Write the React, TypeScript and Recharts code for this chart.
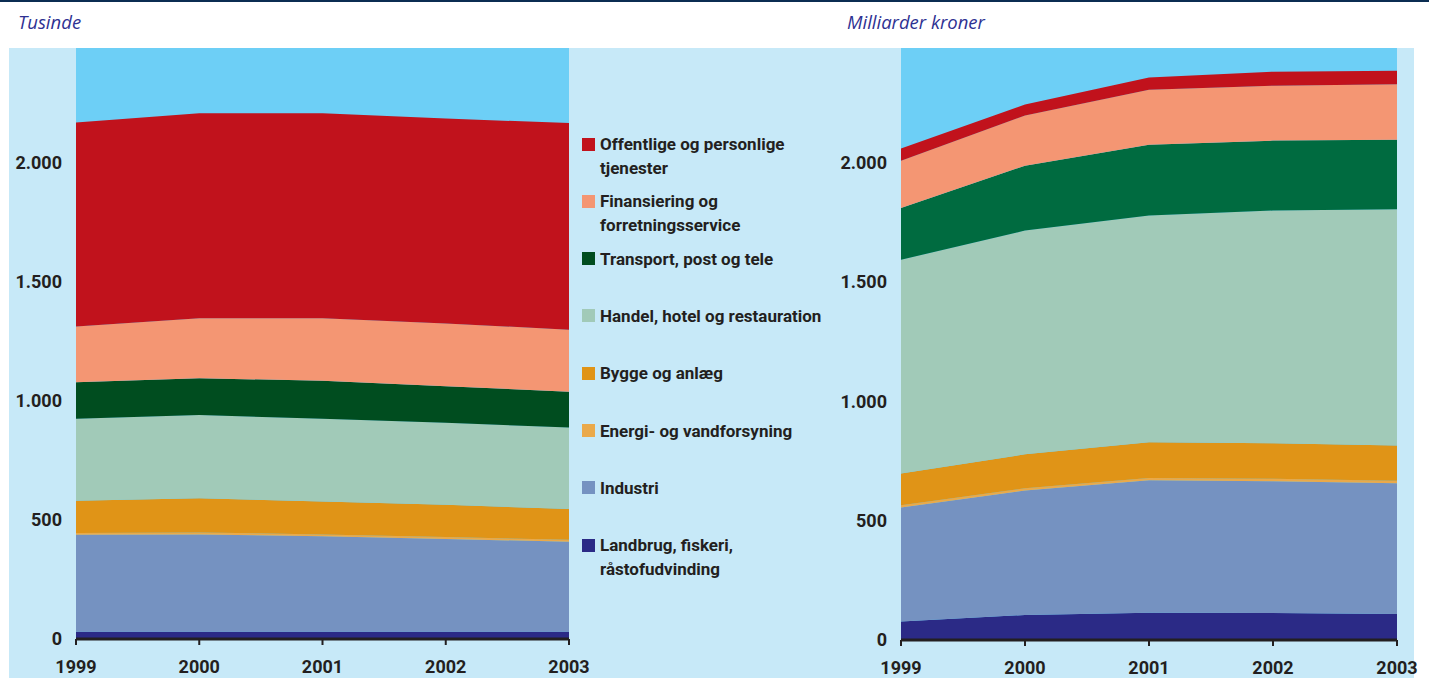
import React from 'react';
import { AreaChart, Area, XAxis, YAxis, CartesianGrid } from 'recharts';

// ---------- data ----------
const years = ['1999', '2000', '2001', '2002', '2003'];

const seriesKeys = ['landbrug', 'industri', 'energi', 'bygge', 'handel', 'transport', 'finans', 'offentlige'];

const legendLabels = [
  ['Offentlige og personlige', 'tjenester'],
  ['Finansiering og', 'forretningsservice'],
  ['Transport, post og tele'],
  ['Handel, hotel og restauration'],
  ['Bygge og anlæg'],
  ['Energi- og vandforsyning'],
  ['Industri'],
  ['Landbrug, fiskeri,', 'råstofudvinding'],
];

// Left: employment (thousands)
const empLandbrug = [30, 30, 30, 30, 30];
const empIndustri = [407, 409, 401, 390, 378];
const empEnergi = [8, 8, 8, 8, 8];
const empBygge = [135, 144, 138, 135, 130];
const empHandel = [344, 349, 347, 344, 342];
const empTransport = [153, 154, 160, 154, 150];
const empFinans = [234, 252, 262, 263, 260];
const empOffentlige = [856, 860, 860, 860, 867];

// Right: value added (billion kroner)
const gvaLandbrug = [77, 105, 114, 113, 109];
const gvaIndustri = [478, 521, 555, 552, 548];
const gvaEnergi = [10, 10, 10, 10, 10];
const gvaBygge = [132, 142, 149, 149, 148];
const gvaHandel = [896, 937, 950, 975, 990];
const gvaTransport = [217, 272, 297, 293, 291];
const gvaFinans = [198, 210, 230, 230, 232];
const gvaOffentlige = [51, 46, 51, 59, 57];

const yTicks = [0, 500, 1000, 1500, 2000];
const yMax = 2480;

// ---------- styles ----------
const FONT = "'Liberation Sans Narrow', 'Arial Narrow', 'Roboto', sans-serif";
const TEXT = '#231f20';
const CYAN = '#6dcff6';
const PALE = '#c7e9f8';

const colorsLeft = ['#2b2a86', '#7592c1', '#eaa94a', '#e09417', '#a1cab8', '#004d1f', '#f49673', '#c1121c'];
const colorsRight = ['#2b2a86', '#7592c1', '#eaa94a', '#e09417', '#a1cab8', '#006b40', '#f49673', '#c1121c'];
const legendColors = ['#c1121c', '#f49673', '#004d1f', '#a1cab8', '#e09417', '#eaa94a', '#7592c1', '#2b2a86'];

function buildRows(arrays: number[][]) {
  return years.map((year, i) => {
    const row: Record<string, string | number> = { year };
    seriesKeys.forEach((k, j) => {
      row[k] = arrays[j][i];
    });
    return row;
  });
}

const leftData = buildRows([empLandbrug, empIndustri, empEnergi, empBygge, empHandel, empTransport, empFinans, empOffentlige]);
const rightData = buildRows([gvaLandbrug, gvaIndustri, gvaEnergi, gvaBygge, gvaHandel, gvaTransport, gvaFinans, gvaOffentlige]);

const fmt = (v: number) =>
  v >= 1000 ? `${Math.floor(v / 1000)}.${String(v % 1000).padStart(3, '0')}` : String(v);

const tickStyle = { fill: TEXT, fontSize: 18, fontWeight: 700, fontFamily: FONT };

function StackChart(props: {
  data: Record<string, string | number>[];
  colors: string[];
  left: number;
  width: number;
  height: number;
  margin: { top: number; right: number; bottom: number; left: number };
}) {
  const { data, colors, left, width, height, margin } = props;
  return (
    <div style={{ position: 'absolute', left, top: 48 }}>
      <AreaChart width={width} height={height} data={data} margin={margin}>
        <CartesianGrid fill={CYAN} fillOpacity={1} stroke="none" horizontal={false} vertical={false} />
        <XAxis
          dataKey="year"
          interval={0}
          height={40}
          axisLine={{ stroke: TEXT, strokeWidth: 3 }}
          tickLine={{ stroke: TEXT, strokeWidth: 2 }}
          tickSize={6}
          tickMargin={15}
          tick={tickStyle}
        />
        <YAxis
          domain={[0, yMax]}
          ticks={yTicks}
          allowDataOverflow
          tickFormatter={fmt}
          axisLine={false}
          tickLine={false}
          tickSize={0}
          tickMargin={14}
          width={60}
          tick={tickStyle}
        />
        {seriesKeys.map((k, i) => (
          <Area
            key={k}
            dataKey={k}
            stackId="s"
            type="linear"
            fill={colors[i]}
            fillOpacity={1}
            stroke="none"
            isAnimationActive={false}
          />
        ))}
      </AreaChart>
    </div>
  );
}

export default function App() {
  const titleStyle: React.CSSProperties = {
    position: 'absolute', top: 9, lineHeight: '26px', fontSize: 18.5,
    fontStyle: 'italic', fontFamily: "'Open Sans', sans-serif", color: '#2e3192', whiteSpace: 'nowrap',
  };
  return (
    <div style={{ position: 'absolute', left: 0, top: 0, width: 1429, height: 678, background: '#fff', overflow: 'hidden' }}>
      <div style={{ position: 'absolute', left: 0, top: 0, width: 1429, height: 2, background: '#0b2d52' }} />
      <div style={{ position: 'absolute', left: 9, top: 48, width: 1405, height: 630, background: PALE }} />
      <div style={{ ...titleStyle, left: 18 }}>Tusinde</div>
      <div style={{ ...titleStyle, left: 847 }}>Milliarder kroner</div>

      <StackChart data={leftData} colors={colorsLeft} left={9} width={600} height={631}
        margin={{ top: 0, right: 40, bottom: 0, left: 7 }} />
      <StackChart data={rightData} colors={colorsRight} left={830} width={600} height={632}
        margin={{ top: 0, right: 33, bottom: 0, left: 11 }} />

      {legendLabels.map((lines, i) => {
        const cy = 144 + i * 57.3;
        return (
          <div key={i}>
            <div style={{ position: 'absolute', left: 582, top: cy - 6.5, width: 13, height: 13, background: legendColors[i] }} />
            <div
              style={{
                position: 'absolute', left: 600, top: cy - 12, lineHeight: '24px', fontSize: 17,
                fontWeight: 700, fontFamily: FONT, color: TEXT, whiteSpace: 'nowrap',
              }}
            >
              {lines.map((l, j) => (
                <div key={j}>{l}</div>
              ))}
            </div>
          </div>
        );
      })}
    </div>
  );
}
